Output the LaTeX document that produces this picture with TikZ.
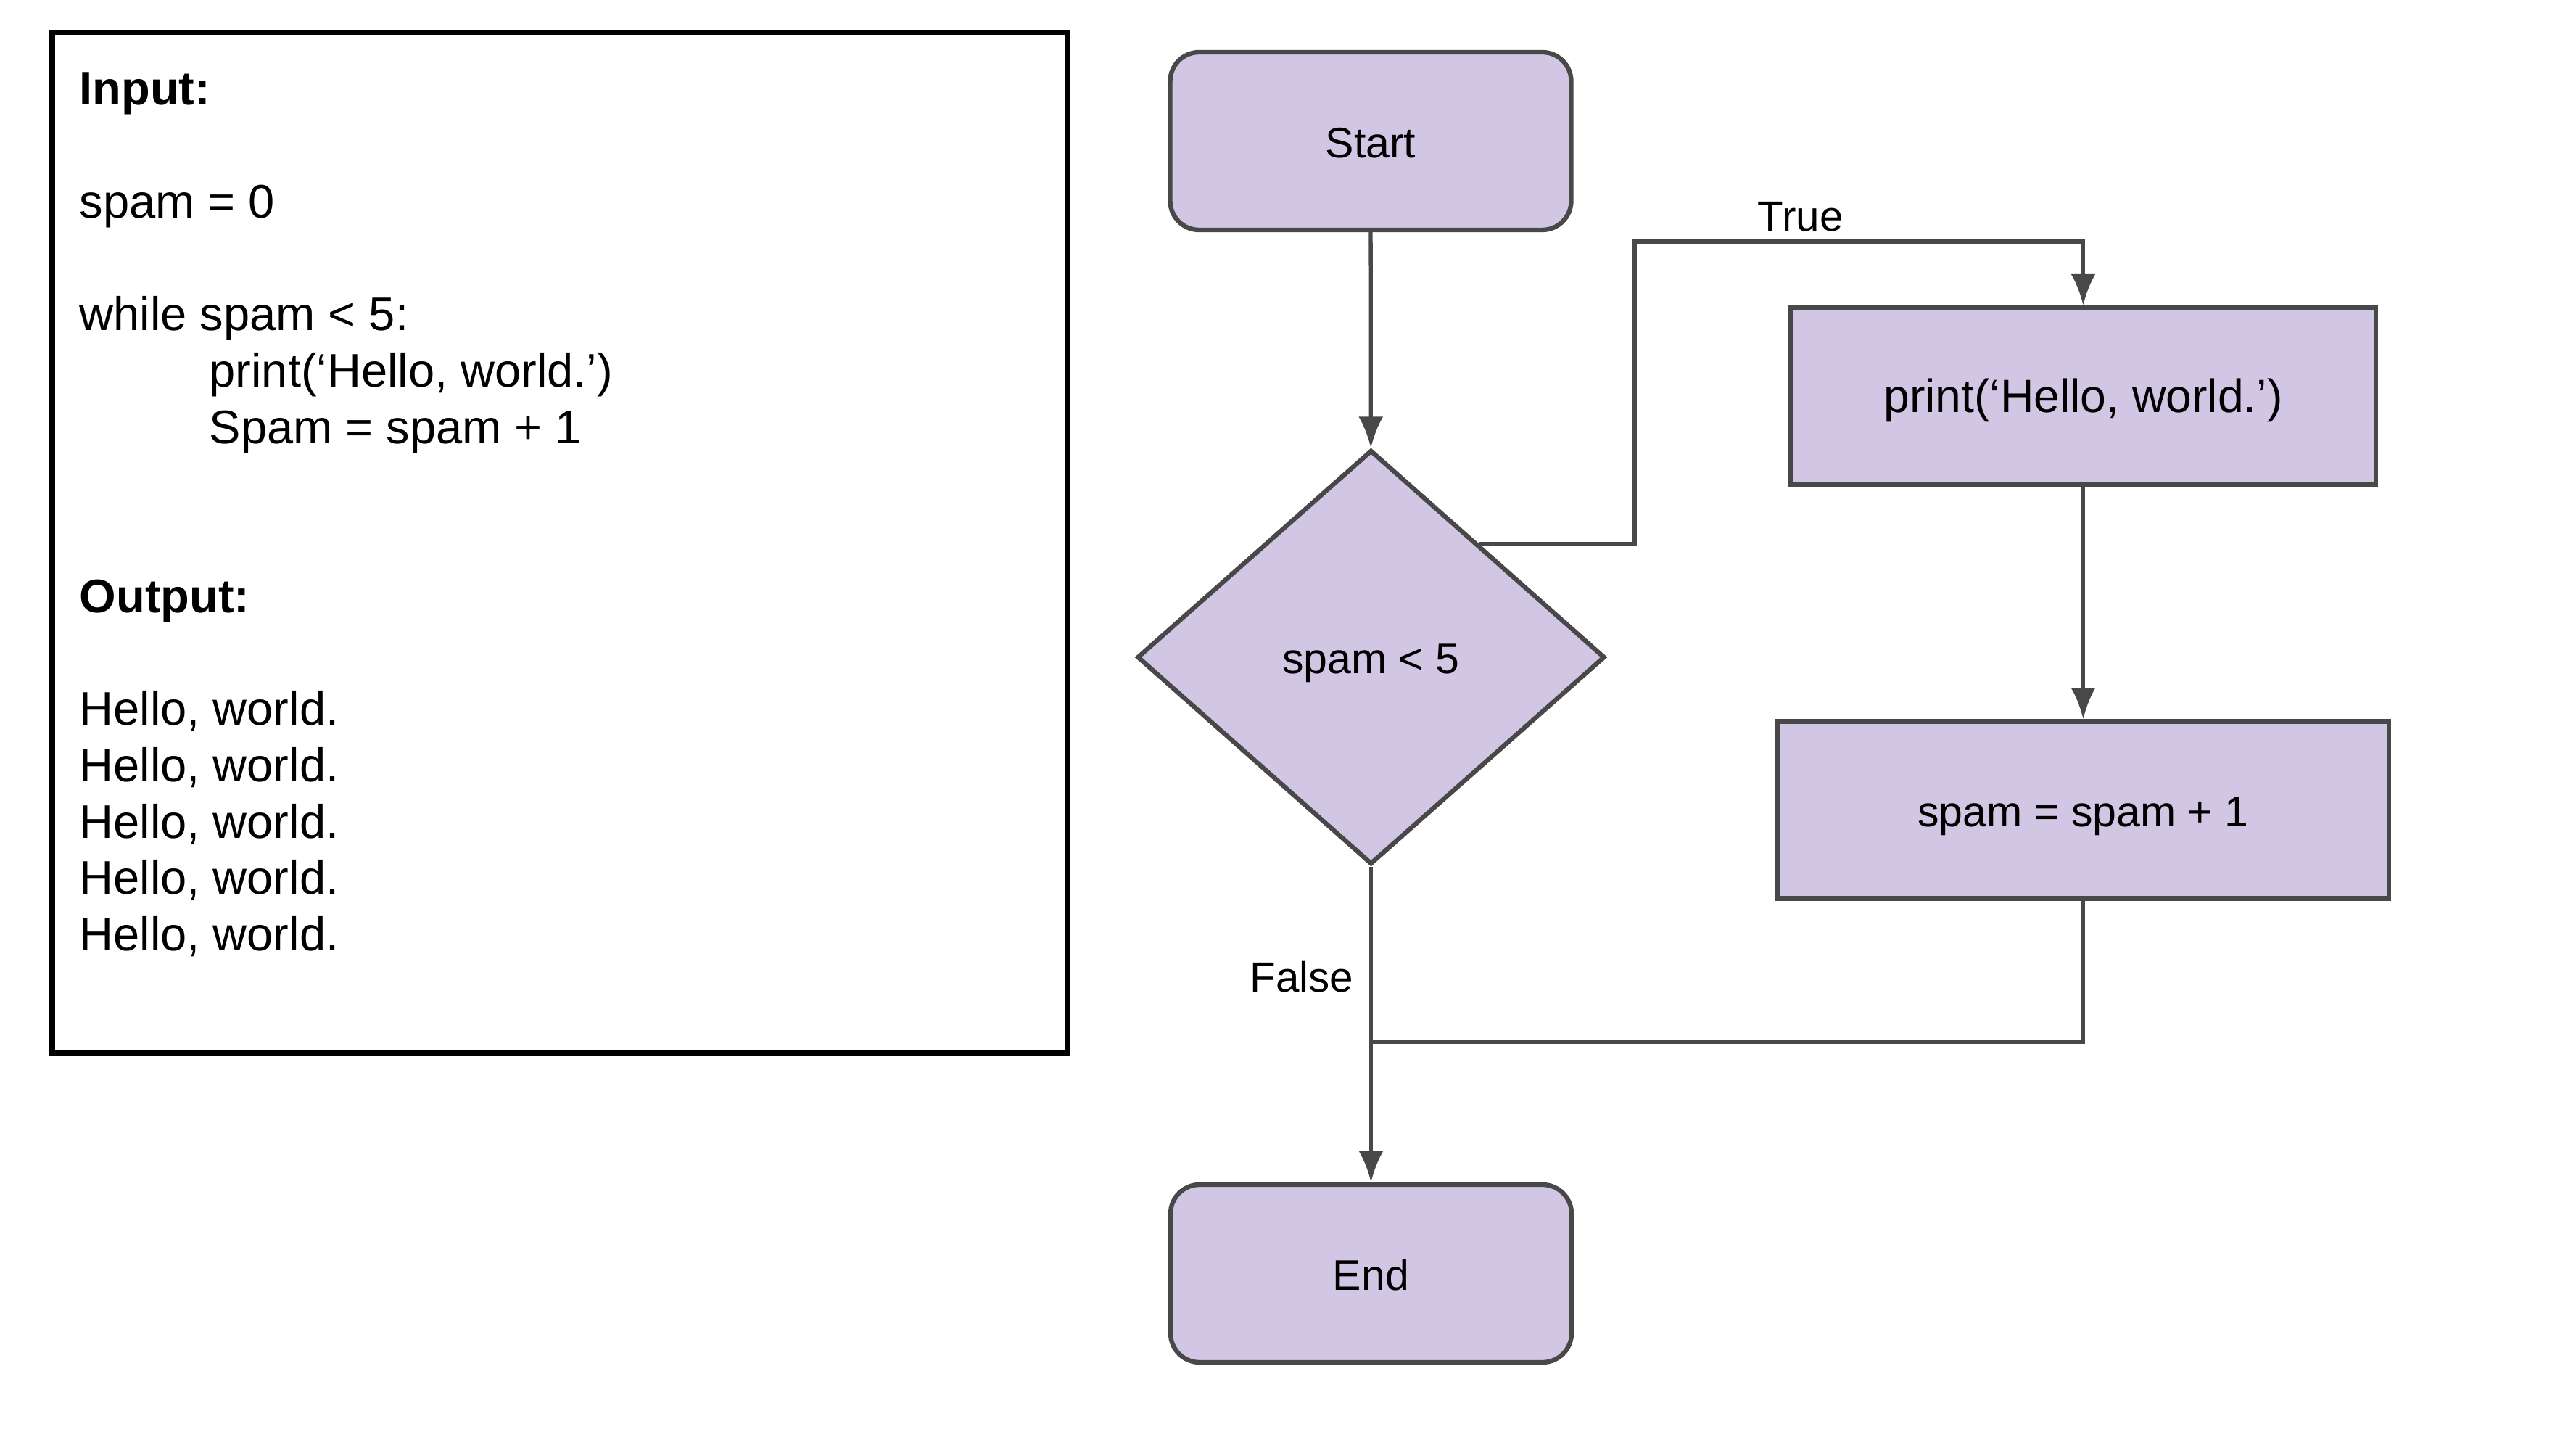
\documentclass[tikz,border=0pt]{standalone}
\usepackage{fontspec}
\setmainfont{Liberation Sans}
\usetikzlibrary{calc, arrows.meta, shapes.geometric}
\definecolor{mylilac}{RGB}{209, 198, 227}
\definecolor{mygray}{RGB}{72, 72, 72}
\tikzset{>={Latex[length=4.3mm, width=3.4mm]}}
\tikzset{
  boxtext/.style = {font=\fontsize{16.8}{20}\selectfont, text height=13pt, text depth=0pt},
  terminal/.style = {boxtext, draw=mygray, fill=mylilac, line width=1.8pt, rounded corners=4mm,
    minimum width=5.53cm, minimum height=2.45cm},
  process/.style = {boxtext, draw=mygray, fill=mylilac, line width=1.8pt,
    minimum height=2.44cm},
  decision/.style = {boxtext, diamond, draw=mygray, fill=mylilac, line width=1.8pt, inner sep=0,
    minimum width=6.45cm, minimum height=5.71cm},
  flow/.style = {draw=mygray, line width=1.5pt},
  flowlabel/.style = {font=\fontsize{16.6}{20}\selectfont},
  codeline/.style = {anchor=base west, inner sep=0, font=\fontsize{18.5}{22}\selectfont}
}

\begin{document}
\begin{tikzpicture}

\useasboundingbox (0,0) rectangle (35.52,19.74); % for the margins

% program and its output
\begin{scope}
\draw[line width=2pt] (0.72,5.22) rectangle (14.72,19.29);
\node[codeline] (inhead) at (1.09, 18.29) {\bfseries Input:};
\node[codeline] (init) at (1.09, 16.736) {spam = 0};
\node[codeline] (loop) at (1.09, 15.182) {while spam < 5:};
\node[codeline] (body1) at (2.88, 14.405) {print(‘Hello, world.’)};
\node[codeline] (body2) at (2.88, 13.628) {Spam = spam + 1};
\node[codeline] (outhead) at (1.09, 11.297) {\bfseries Output:};
\foreach \i in {0,...,4}
  \node[codeline] (hello\i) at (1.09, 9.743 - 0.777*\i) {Hello, world.};
\end{scope}

% flowchart
\begin{scope}
\node[terminal] (start) at (18.9, 17.795) {Start};
\node[decision] (cond) at (18.905, 10.68) {spam < 5};
\node[process, minimum width=8.07cm, font=\fontsize{18.3}{22}\selectfont] (say) at (28.725, 14.28) {print(‘Hello, world.’)};
\node[process, minimum width=8.43cm] (incr) at (28.725, 8.575) {spam = spam + 1};
\node[terminal] (stop) at (18.905, 2.185) {End};

\coordinate (exit) at ($(cond.north)!0.46!(cond.east)$);
\coordinate (turn) at (22.54, 16.41);
\coordinate (merge) at (18.905, 5.38);

\draw[flow, ->] (start) -- (cond);
\draw[flow, ->] (exit) -| (turn) -- node[flowlabel, pos=0.37, above] {True} (turn -| say.north) -- (say.north);
\draw[flow, ->] (say) -- (incr);
\draw[flow] (incr.south) |- (merge);
\draw[flow, ->] (cond.south) -- node[flowlabel, pos=0.35, left, xshift=-1mm] {False} (stop.north);
\end{scope}

\end{tikzpicture}
\end{document}
